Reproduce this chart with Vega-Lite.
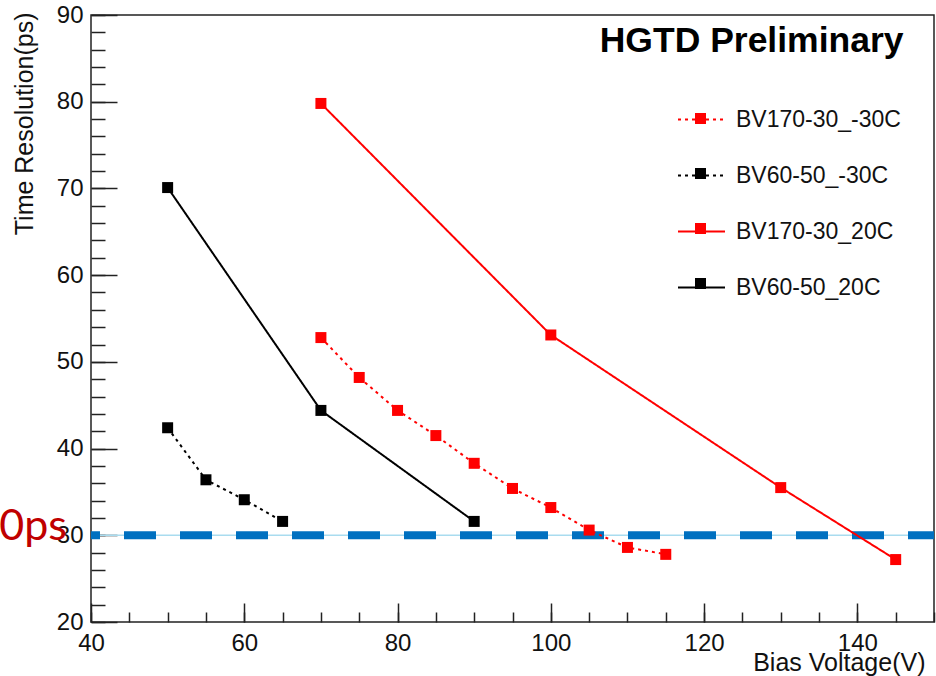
{
  "$schema": "https://vega.github.io/schema/vega-lite/v6.json",
  "width": 843,
  "height": 607,
  "autosize": {"type": "none"},
  "padding": {"left": 91, "top": 15, "right": 2, "bottom": 54},
  "background": "white",
  "config": {
    "view": {"stroke": "#222222", "strokeWidth": 1.5},
    "axis": {
      "domain": false,
      "grid": false,
      "tickColor": "#222222",
      "tickWidth": 1.5,
      "labelFlush": false,
      "labelFont": "Liberation Sans",
      "labelFontSize": 24,
      "labelColor": "#111111",
      "titleFont": "Liberation Sans",
      "titleFontSize": 25,
      "titleFontWeight": "normal",
      "titleColor": "#111111"
    }
  },
  "datasets": {
    "meas": [
      {"series": "BV170-30_-30C", "V": 70, "T": 52.8},
      {"series": "BV170-30_-30C", "V": 75, "T": 48.2},
      {"series": "BV170-30_-30C", "V": 80, "T": 44.4},
      {"series": "BV170-30_-30C", "V": 85, "T": 41.5},
      {"series": "BV170-30_-30C", "V": 90, "T": 38.3},
      {"series": "BV170-30_-30C", "V": 95, "T": 35.4},
      {"series": "BV170-30_-30C", "V": 100, "T": 33.2},
      {"series": "BV170-30_-30C", "V": 105, "T": 30.6},
      {"series": "BV170-30_-30C", "V": 110, "T": 28.6},
      {"series": "BV170-30_-30C", "V": 115, "T": 27.8},
      {"series": "BV60-50_-30C", "V": 50, "T": 42.4},
      {"series": "BV60-50_-30C", "V": 55, "T": 36.4},
      {"series": "BV60-50_-30C", "V": 60, "T": 34.1},
      {"series": "BV60-50_-30C", "V": 65, "T": 31.6},
      {"series": "BV170-30_20C", "V": 70, "T": 79.8},
      {"series": "BV170-30_20C", "V": 100, "T": 53.1},
      {"series": "BV170-30_20C", "V": 130, "T": 35.5},
      {"series": "BV170-30_20C", "V": 145, "T": 27.2},
      {"series": "BV60-50_20C", "V": 50, "T": 70.1},
      {"series": "BV60-50_20C", "V": 70, "T": 44.4},
      {"series": "BV60-50_20C", "V": 90, "T": 31.6}
    ]
  },
  "layer": [
    {
      "data": {"values": [{}]},
      "mark": {"type": "rule", "color": "#a9dcef", "strokeWidth": 1.5},
      "encoding": {"y": {"datum": 30, "scale": {"domain": [20, 90], "nice": false, "zero": false}, "axis": null}}
    },
    {
      "data": {"values": [{}]},
      "mark": {"type": "rule", "color": "#0070c0", "strokeWidth": 8, "strokeDash": [32, 24], "strokeDashOffset": 6},
      "encoding": {"y": {"datum": 30, "axis": null}}
    },
    {
      "data": {"name": "meas"},
      "mark": {"type": "line", "strokeWidth": 2},
      "encoding": {
        "x": {
          "field": "V", "type": "quantitative",
          "scale": {"domain": [40, 150], "nice": false, "zero": false},
          "axis": {
            "orient": "bottom",
            "values": [40, 60, 80, 100, 120, 140],
            "tickSize": -19,
            "labelPadding": 28,
            "title": "Bias Voltage(V)",
            "titleX": 834,
            "titleY": 48,
            "titleAlign": "right",
            "titleBaseline": "alphabetic"
          }
        },
        "y": {
          "field": "T", "type": "quantitative",
          "scale": {"domain": [20, 90], "nice": false, "zero": false},
          "axis": {
            "orient": "left",
            "values": [20, 30, 40, 50, 60, 70, 80, 90],
            "tickSize": -26,
            "labelPadding": 34,
            "title": "Time Resolution(ps)",
            "titleX": -59,
            "titleY": -3,
            "titleAngle": -90,
            "titleAlign": "right",
            "titleBaseline": "alphabetic"
          }
        },
        "color": {
          "field": "series", "type": "nominal",
          "scale": {
            "domain": ["BV170-30_-30C", "BV60-50_-30C", "BV170-30_20C", "BV60-50_20C"],
            "range": ["#ff0000", "#000000", "#ff0000", "#000000"]
          },
          "legend": {
            "orient": "none", "legendX": 586, "legendY": 80,
            "title": null,
            "symbolType": "M-1,0L1,0",
            "symbolSize": 2209,
            "symbolStrokeWidth": 2,
            "labelFont": "Liberation Sans",
            "labelFontSize": 23,
            "labelColor": "#111111",
            "labelOffset": 10,
            "rowPadding": 19,
            "padding": 0,
            "labelLimit": 300
          }
        },
        "strokeDash": {
          "field": "series", "type": "nominal",
          "scale": {
            "domain": ["BV170-30_-30C", "BV60-50_-30C", "BV170-30_20C", "BV60-50_20C"],
            "range": [[3, 4], [3, 4], [1, 0], [1, 0]]
          },
          "legend": {"orient": "none", "legendX": 586, "legendY": 80}
        }
      }
    },
    {
      "data": {"name": "meas"},
      "mark": {"type": "point", "shape": "square", "filled": true, "size": 121, "opacity": 1},
      "encoding": {
        "x": {
          "field": "V", "type": "quantitative",
          "axis": {
            "orient": "bottom",
            "values": [40, 45, 50, 55, 60, 65, 70, 75, 80, 85, 90, 95, 100, 105, 110, 115, 120, 125, 130, 135, 140, 145, 150],
            "tickSize": -10,
            "labels": false,
            "title": null
          }
        },
        "y": {
          "field": "T", "type": "quantitative",
          "axis": {
            "orient": "left",
            "values": [20, 22, 24, 26, 28, 30, 32, 34, 36, 38, 40, 42, 44, 46, 48, 50, 52, 54, 56, 58, 60, 62, 64, 66, 68, 70, 72, 74, 76, 78, 80, 82, 84, 86, 88, 90],
            "tickSize": -14,
            "labels": false,
            "title": null
          }
        },
        "fill": {
          "field": "series", "type": "nominal",
          "scale": {
            "domain": ["BV170-30_20C", "BV60-50_20C", "BV170-30_-30C", "BV60-50_-30C"],
            "range": ["#ff0000", "#000000", "#ff0000", "#000000"]
          },
          "legend": {
            "orient": "none", "legendX": 586, "legendY": 80,
            "values": ["BV170-30_-30C", "BV60-50_-30C", "BV170-30_20C", "BV60-50_20C"],
            "title": null,
            "symbolType": "M-0.235,-0.235L0.235,-0.235L0.235,0.235L-0.235,0.235Z",
            "symbolSize": 2209,
            "symbolStrokeWidth": 0,
            "labelExpr": "' '",
            "labelFont": "Liberation Sans",
            "labelFontSize": 23,
            "labelOffset": 10,
            "rowPadding": 19,
            "padding": 0
          }
        }
      }
    },
    {
      "data": {"values": [{}]},
      "mark": {"type": "text", "text": "HGTD Preliminary", "font": "Liberation Sans", "fontSize": 35.5, "fontWeight": "bold", "color": "#000000", "align": "center", "baseline": "alphabetic"},
      "encoding": {"x": {"datum": 126.2, "axis": null}, "y": {"datum": 85.73, "axis": null}}
    },
    {
      "data": {"values": [{}]},
      "mark": {"type": "text", "text": "0ps", "font": "Lato", "fontSize": 43, "color": "#c00000", "align": "right", "baseline": "alphabetic", "dx": -24},
      "encoding": {"x": {"datum": 40, "axis": null}, "y": {"datum": 29.45, "axis": null}}
    }
  ],
  "resolve": {"axis": {"x": "independent", "y": "independent"}}
}
